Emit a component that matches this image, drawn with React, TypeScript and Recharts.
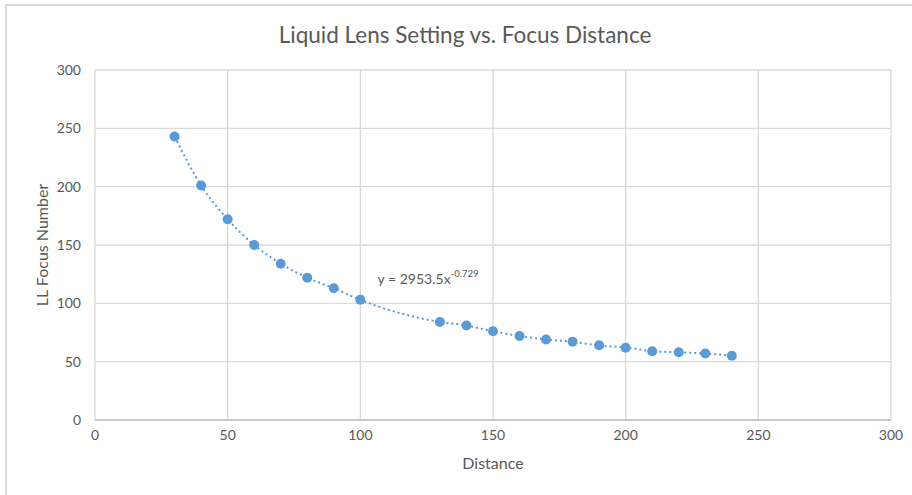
import React from 'react'
import { CartesianGrid, ComposedChart, Line, ReferenceDot, Scatter, XAxis, YAxis, Label } from 'recharts'

const distance = [30, 40, 50, 60, 70, 80, 90, 100, 130, 140, 150, 160, 170, 180, 190, 200, 210, 220, 230, 240]
const focusNumber = [243, 201, 172, 150, 134, 122, 113, 103, 84, 81, 76, 72, 69, 67, 64, 62, 59, 58, 57, 55]
const xTicks = [0, 50, 100, 150, 200, 250, 300]
const yTicks = [0, 50, 100, 150, 200, 250, 300]

const BLUE = '#5b9bd5'
const TEXT = '#595959'
const FONT = 'Lato, "Open Sans", sans-serif'

const points = distance.map((x, i) => ({ x, y: focusNumber[i] }))

function EquationLabel(props: any) {
  const { viewBox } = props
  const x = viewBox?.x ?? 0
  const y = viewBox?.y ?? 0
  return (
    <text x={x} y={y} fill={TEXT} fontSize={14} fontFamily={FONT}>
      y = 2953.5x
      <tspan fontSize={9.5} dy={-7}>-0.729</tspan>
    </text>
  )
}

export default function App() {
  return (
    <div style={{ position: 'absolute', left: 0, top: 0, width: 912, height: 495, overflow: 'hidden', background: '#fff' }}>
      <div
        style={{
          position: 'absolute',
          left: 5,
          top: 4,
          width: 930,
          height: 520,
          border: '2px solid #d9d9d9',
        }}
      />
      <div style={{ position: 'absolute', left: 0, top: 0 }}>
        <ComposedChart width={912} height={495} data={points} margin={{ top: 70, right: 21, bottom: 0, left: 0 }}>
          <text x={465} y={43} textAnchor="middle" fill={TEXT} fontSize={22.5} fontFamily={FONT}>
            Liquid Lens Setting vs. Focus Distance
          </text>
          <CartesianGrid stroke="#d9d9d9" strokeWidth={1.3} />
          <XAxis
            dataKey="x"
            type="number"
            domain={[0, 300]}
            ticks={xTicks}
            tickSize={0}
            tickMargin={10}
            axisLine={{ stroke: '#bfbfbf', strokeWidth: 1.5 }}
            tick={{ fill: TEXT, fontSize: 14, fontFamily: FONT }}
            height={75}
          >
            <Label value="Distance" position="insideTop" offset={38} fill={TEXT} fontSize={16} fontFamily={FONT} />
          </XAxis>
          <YAxis
            dataKey="y"
            type="number"
            domain={[0, 300]}
            ticks={yTicks}
            tickSize={0}
            tickMargin={14}
            axisLine={false}
            tick={{ fill: TEXT, fontSize: 14, fontFamily: FONT }}
            width={95}
          >
            <Label
              value="LL Focus Number"
              angle={-90}
              position="insideLeft"
              offset={42}
              style={{ textAnchor: 'middle' }}
              fill={TEXT}
              fontSize={16}
              fontFamily={FONT}
            />
          </YAxis>
          <Line
            dataKey="y"
            type="monotone"
            stroke={BLUE}
            strokeWidth={2}
            strokeDasharray="2 3"
            dot={false}
            activeDot={false}
            isAnimationActive={false}
          />
          <Scatter data={points} dataKey="y" fill={BLUE} shape={(p: any) => <circle cx={p.cx} cy={p.cy} r={5} fill={BLUE} />} isAnimationActive={false} />
          <ReferenceDot x={106.5} y={117} r={0} stroke="none" fill="none" label={<EquationLabel />} />
        </ComposedChart>
      </div>
    </div>
  )
}
